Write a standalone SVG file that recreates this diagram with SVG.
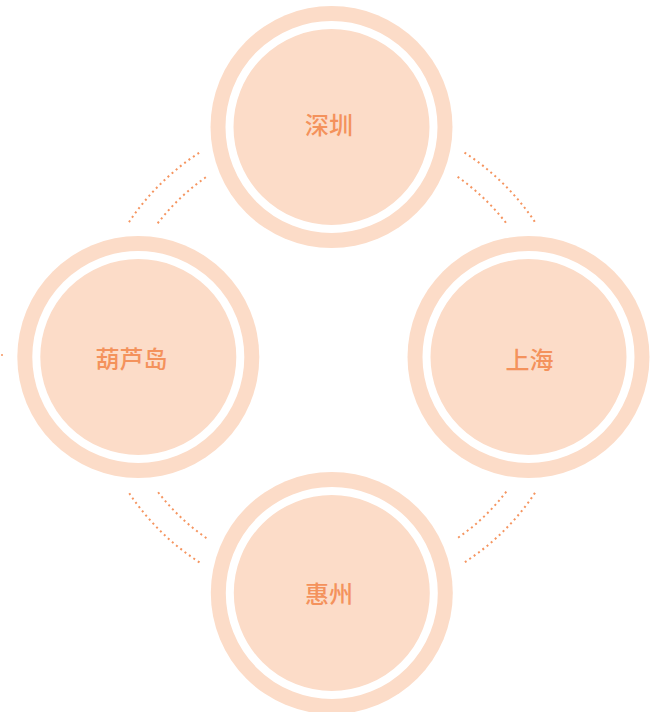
<svg xmlns="http://www.w3.org/2000/svg" width="652" height="712" viewBox="0 0 652 712">
<style>
.outer{fill:#fcdcc8}
.ring{fill:none;stroke:#ffffff;stroke-width:8}
.lbl{font-family:"Noto Sans CJK SC","Noto Sans",sans-serif;font-size:24px;font-weight:500;fill:#f4925c;text-anchor:middle;dominant-baseline:central}
.dot{fill:none;stroke:#f59560;stroke-width:2;stroke-dasharray:2 3.4}
</style>
<rect width="652" height="712" fill="#ffffff"/>
<g id="connectors">
<path class="dot" d="M129,222.1 A244,244 0 0 1 199.5,152.6"/>
<path class="dot" d="M157.7,223.3 A220,220 0 0 1 206.4,176.9"/>
<path class="dot" d="M464.5,152.6 A244,244 0 0 1 535,222.1"/>
<path class="dot" d="M457.6,176.9 A220,220 0 0 1 506.3,223.3"/>
<path class="dot" d="M535,492.9 A244,244 0 0 1 464.5,562.4"/>
<path class="dot" d="M506.3,491.7 A220,220 0 0 1 457.6,538.1"/>
<path class="dot" d="M199.5,562.4 A244,244 0 0 1 129,492.9"/>
<path class="dot" d="M206.4,538.1 A220,220 0 0 1 157.7,491.7"/>
<circle cx="2" cy="355" r="1" fill="#f59560"/>
</g>
<g id="shenzhen">
<circle class="outer" cx="331.5" cy="127" r="121"/>
<circle class="ring" cx="331.5" cy="127" r="102"/>
<text class="lbl" x="329" y="123">深圳</text>
</g>
<g id="huludao">
<circle class="outer" cx="138.3" cy="357" r="121"/>
<circle class="ring" cx="138.3" cy="357" r="102"/>
<text class="lbl" x="131.5" y="357">葫芦岛</text>
</g>
<g id="shanghai">
<circle class="outer" cx="528.5" cy="357" r="121"/>
<circle class="ring" cx="528.5" cy="357" r="102"/>
<text class="lbl" x="529.5" y="358">上海</text>
</g>
<g id="huizhou">
<circle class="outer" cx="331.8" cy="593" r="121"/>
<circle class="ring" cx="331.8" cy="593" r="102"/>
<text class="lbl" x="329" y="592">惠州</text>
</g>
</svg>
